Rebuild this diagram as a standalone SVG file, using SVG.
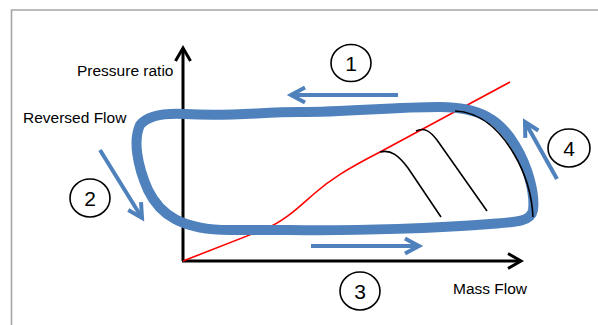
<svg xmlns="http://www.w3.org/2000/svg" width="598" height="325" viewBox="0 0 598 325">
<style>
.lbl{font-family:"Liberation Sans",Arial,sans-serif;font-size:15.5px;fill:#000}
.num{font-family:"Liberation Sans",Arial,sans-serif;font-size:21px;fill:#000;text-anchor:middle}
.circ{fill:#fff;stroke:#000;stroke-width:1.6}
.axis{fill:none;stroke:#000;stroke-width:3}
.flow{fill:none;stroke:#4f81bd;stroke-width:4}
.char{fill:none;stroke:#000;stroke-width:1.6}
</style>
<defs>
<marker id="ah-black" markerUnits="userSpaceOnUse" viewBox="-20 -12 24 24" markerWidth="24" markerHeight="24" refX="0" refY="0" orient="auto" overflow="visible">
<path d="M-13,-7.5 L0,0 L-13,7.5" fill="none" stroke="#000" stroke-width="3"/>
</marker>
<marker id="ah-blue" markerUnits="userSpaceOnUse" viewBox="-20 -12 24 24" markerWidth="24" markerHeight="24" refX="0" refY="0" orient="auto" overflow="visible">
<path d="M-14,-7.5 L0,0 L-14,7.5" fill="none" stroke="#4f81bd" stroke-width="4"/>
</marker>
</defs>
<rect width="598" height="325" fill="#fff"/>
<path d="M11.5,325 L11.5,10 L598,10" fill="none" stroke="#a6a6a6" stroke-width="1.6"/>

<g id="axes">
<line class="axis" x1="183" y1="261" x2="183" y2="48" marker-end="url(#ah-black)"/>
<line class="axis" x1="182" y1="261" x2="521" y2="261" marker-end="url(#ah-black)"/>
</g>

<g id="surge-line">
<path d="M183,261 L265,229 C285,221 300,206 315,193 C330,180 345,170 380,152 L510,82" fill="none" stroke="#ff0000" stroke-width="1.6"/>
</g>

<g id="loop">
<path d="M185,114 C230,117 260,112 300,112 C350,112 390,107 440,107 C480,107 500,120 515,145 C529,168 535,195 533,210 C531,222 515,222 490,224 C440,228 360,231 290,230 L230,230 C182,230 160,215 148,190 C137,165 133,140 140,125 C148,115 165,113 185,114 Z" fill="none" stroke="#4f81bd" stroke-width="10"/>
</g>

<g id="characteristics">
<path class="char" d="M380,152 C391,149 399,156 408,168 L441,217"/>
<path class="char" d="M416,131 C424,127 430,131 437,140 L487,211"/>
<path class="char" d="M455,111 C480,112 500,130 514,154 C527,176 532,196 533,217"/>
</g>

<g id="connectors">
<line class="flow" x1="398" y1="95" x2="291" y2="95" marker-end="url(#ah-blue)"/>
<line class="flow" x1="100" y1="150" x2="142" y2="218" marker-end="url(#ah-blue)"/>
<line class="flow" x1="311" y1="246" x2="419" y2="246" marker-end="url(#ah-blue)"/>
<line class="flow" x1="557" y1="179" x2="525" y2="122" marker-end="url(#ah-blue)"/>
</g>

<g id="label-pressure"><text class="lbl" x="77" y="76">Pressure ratio</text></g>
<g id="label-reversed"><text class="lbl" x="23" y="123">Reversed Flow</text></g>
<g id="label-mass"><text class="lbl" x="453" y="294">Mass Flow</text></g>

<g id="n1"><ellipse class="circ" cx="351" cy="63" rx="20" ry="18.5"/><text class="num" x="351" y="71">1</text></g>
<g id="n2"><ellipse class="circ" cx="90" cy="198" rx="20" ry="19"/><text class="num" x="90" y="206">2</text></g>
<g id="n3"><ellipse class="circ" cx="360" cy="291" rx="20" ry="19"/><text class="num" x="360" y="299">3</text></g>
<g id="n4"><ellipse class="circ" cx="569" cy="148" rx="21" ry="19"/><text class="num" x="569" y="156">4</text></g>
</svg>
